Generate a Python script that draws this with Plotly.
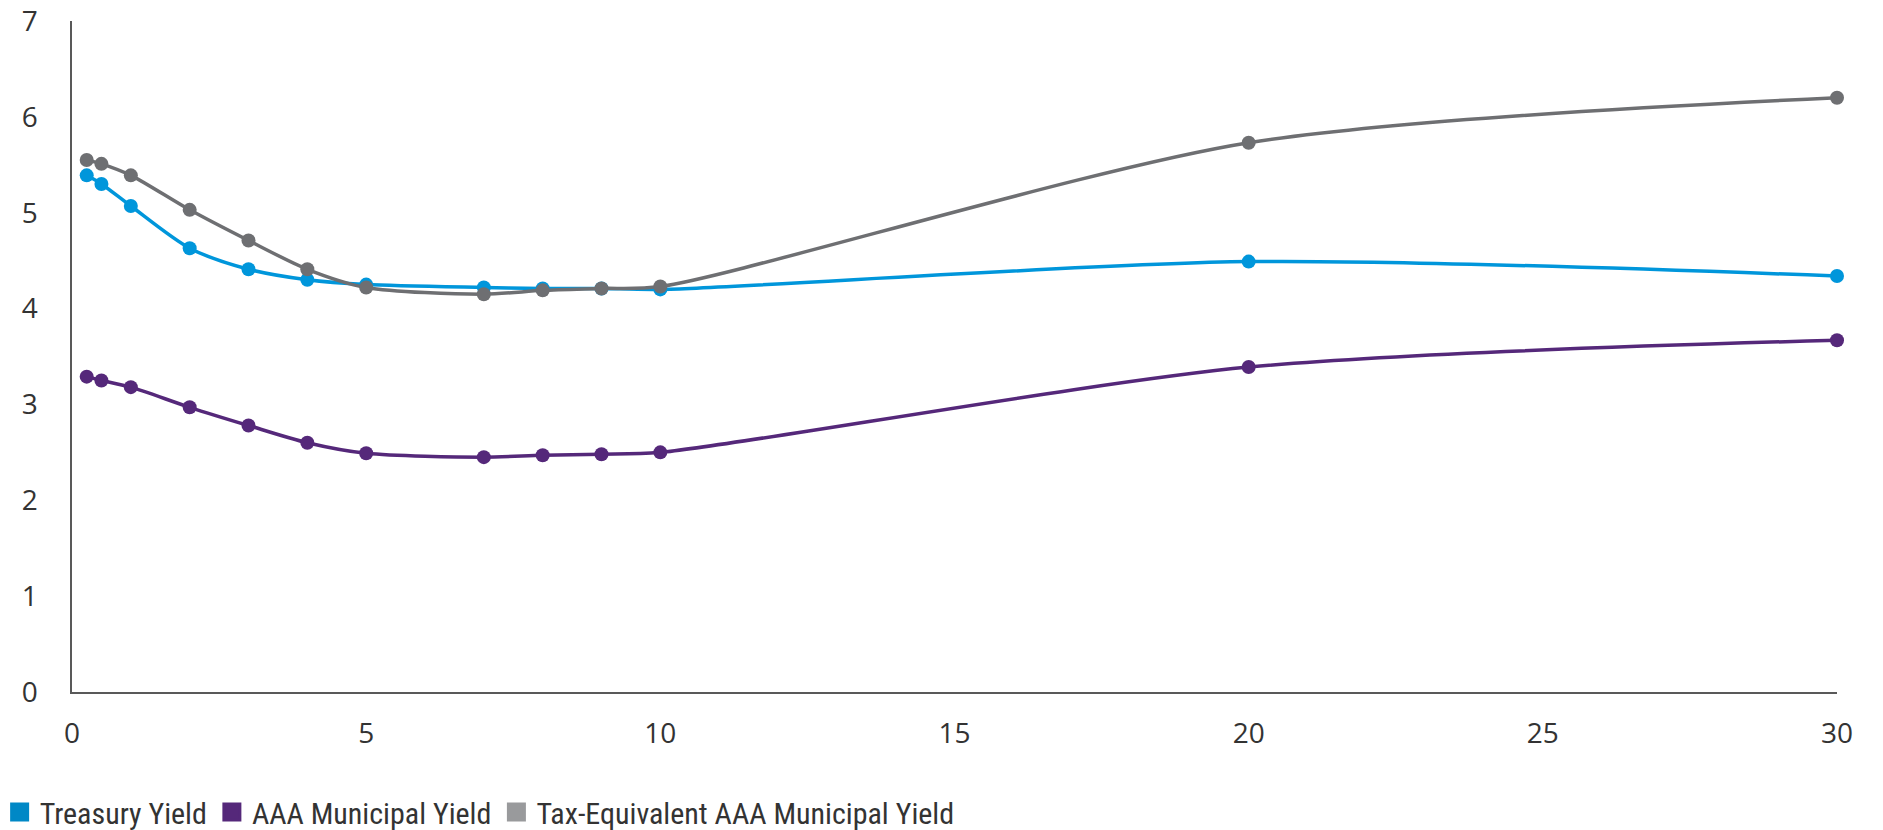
import plotly.graph_objects as go

maturities = [0.25, 0.5, 1, 2, 3, 4, 5, 7, 8, 9, 10, 20, 30]
treasury_yield = [5.39, 5.30, 5.07, 4.63, 4.41, 4.30, 4.25, 4.22, 4.21, 4.21, 4.20, 4.49, 4.34]
muni_yield = [3.29, 3.25, 3.18, 2.97, 2.78, 2.60, 2.49, 2.45, 2.47, 2.48, 2.50, 3.39, 3.67]
tax_equiv_yield = [5.55, 5.51, 5.39, 5.03, 4.71, 4.41, 4.22, 4.15, 4.19, 4.21, 4.23, 5.73, 6.20]

series_names = ["Treasury Yield", "AAA Municipal Yield", "Tax-Equivalent AAA Municipal Yield"]
line_colors = ["#0096DB", "#55287A", "#6E6F72"]
legend_colors = ["#0088C6", "#55287A", "#999A9C"]
x_ticks = [0, 5, 10, 15, 20, 25, 30]
y_ticks = [0, 1, 2, 3, 4, 5, 6, 7]

fig = go.Figure()
for name, vals, col in zip(series_names, [treasury_yield, muni_yield, tax_equiv_yield], line_colors):
    fig.add_trace(go.Scatter(
        x=maturities, y=vals, name=name, mode="lines+markers",
        line=dict(color=col, width=3.5, shape="spline", smoothing=0.8),
        marker=dict(color=col, size=14),
        showlegend=False, cliponaxis=False,
    ))
for name, col in zip(series_names, legend_colors):
    fig.add_trace(go.Scatter(
        x=[None], y=[None], name=name, mode="markers",
        marker=dict(color=col, size=16, symbol="square", line=dict(color=col, width=3)),
        showlegend=True,
    ))

fig.update_layout(
    width=1883, height=830,
    margin=dict(l=72, r=46, t=21, b=138, autoexpand=False),
    plot_bgcolor="white", paper_bgcolor="white",
    font=dict(family="Open Sans, sans-serif", color="#333333"),
    legend=dict(
        orientation="h", x=-0.041, xanchor="left", y=-0.179, yanchor="middle",
        font=dict(family="Liberation Sans Narrow, Roboto Condensed, Liberation Sans, sans-serif",
                  size=30, color="#333333"),
        itemwidth=30, tracegroupgap=0, itemsizing="trace",
    ),
)
fig.update_xaxes(
    range=[0, 30], tickvals=x_ticks, showgrid=False, zeroline=False, automargin=False,
    showline=True, linecolor="#595959", linewidth=1.5,
    ticks="outside", ticklen=0, ticklabelstandoff=16,
    tickfont=dict(size=28, color="#333333"),
)
fig.update_yaxes(
    range=[0, 7], tickvals=y_ticks, showgrid=False, zeroline=False, automargin=False,
    showline=True, linecolor="#595959", linewidth=1.5,
    ticks="outside", ticklen=0, ticklabelstandoff=27,
    tickfont=dict(size=28, color="#333333"),
)

fig.write_html("out.html")
